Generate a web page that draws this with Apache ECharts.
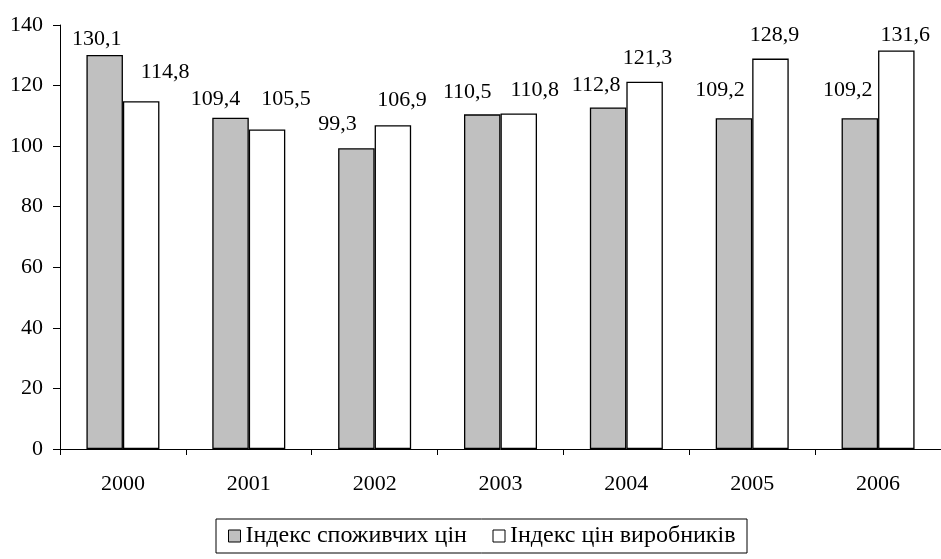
<!DOCTYPE html>
<html>
<head>
<meta charset="utf-8">
<script src="https://cdn.jsdelivr.net/npm/echarts@6/dist/echarts.min.js"></script>
<style>
html,body{margin:0;padding:0;background:#fff;}
#chart{width:941px;height:559px;}
</style>
</head>
<body>
<div id="chart"></div>
<script>
// Data
const categories = ['2000','2001','2002','2003','2004','2005','2006'];
const seriesNames = ['Індекс споживчих цін','Індекс цін виробників'];
const consumerIndex = [130.1, 109.4, 99.3, 110.5, 112.8, 109.2, 109.2];
const producerIndex = [114.8, 105.5, 106.9, 110.8, 121.3, 128.9, 131.6];
const yTicks = [0, 20, 40, 60, 80, 100, 120, 140];

// Label placement (style only): horizontal shift and vertical gap above bar
const consumerLabelDx = [-8, -15, -19, -15, -12, -14, -12];
const consumerLabelGap = [9, 11, 17, 15, 15, 21, 21];
const producerLabelDx = [24, 19, 9, 16, 3, 4, 9];
const producerLabelGap = [22, 23, 18, 16, 16, 16, 8];

const FONT = "'Liberation Serif','Times New Roman',serif";
const LEGEND_FS = 24;

function fmt(v){ return String(v.toFixed(1)).replace('.', ','); }

function buildData(values, dxs, gaps){
  return values.map((v,i)=>({
    value: v,
    label: { offset: [dxs[i], -(gaps[i]-4)] }
  }));
}

// measure legend texts to place the legend items like the reference
const mctx = document.createElement('canvas').getContext('2d');
mctx.font = LEGEND_FS + 'px ' + FONT;
const w1 = mctx.measureText(seriesNames[0]).width;
const w2 = mctx.measureText(seriesNames[1]).width;
const legendLeft = 216, padL = 12, icon = 12, iconGap = 5;
const item2X = 492, boxRight = 746;
const gapBetween = Math.max(4, item2X - (legendLeft + padL + icon + iconGap + w1));
const padR = Math.max(2, boxRight - (item2X + icon + iconGap + w2));

const chart = echarts.init(document.getElementById('chart'), null, {renderer:'canvas'});
chart.setOption({
  animation: false,
  backgroundColor: '#ffffff',
  grid: { left: 60, right: -6, top: 25, bottom: 110, containLabel: false },
  legend: {
    data: seriesNames,
    left: legendLeft, top: 519,
    orient: 'horizontal',
    padding: [5, padR, 5, padL],
    itemGap: gapBetween,
    itemWidth: icon, itemHeight: icon,
    icon: 'rect',
    borderColor: '#000', borderWidth: 1,
    itemStyle: { borderColor: '#000', borderWidth: 1 },
    textStyle: { fontFamily: FONT, fontSize: LEGEND_FS, color: '#000', lineHeight: 24 }
  },
  xAxis: {
    type: 'category',
    data: categories,
    boundaryGap: true,
    axisLine: { lineStyle: { color: '#000', width: 1 } },
    axisTick: { show: true, alignWithLabel: false, inside: false, length: 6, lineStyle: { color: '#000' } },
    axisLabel: { fontFamily: FONT, fontSize: 22, color: '#000', margin: 24 },
    splitLine: { show: false }
  },
  yAxis: {
    type: 'value',
    min: yTicks[0], max: yTicks[yTicks.length-1], interval: 20,
    axisLine: { show: true, lineStyle: { color: '#000', width: 1 } },
    axisTick: { show: true, inside: false, length: 7, lineStyle: { color: '#000' } },
    axisLabel: { fontFamily: FONT, fontSize: 22, color: '#000', margin: 17 },
    splitLine: { show: false }
  },
  series: [
    {
      name: seriesNames[0], type: 'bar',
      data: buildData(consumerIndex, consumerLabelDx, consumerLabelGap),
      barWidth: 36.5, barGap: '0%',
      itemStyle: { color: '#c0c0c0', borderColor: '#000', borderWidth: 1.3 },
      label: { show: true, position: 'top', distance: 0, fontFamily: FONT, fontSize: 22, color: '#000',
        formatter: p => fmt(p.value) }
    },
    {
      name: seriesNames[1], type: 'bar',
      data: buildData(producerIndex, producerLabelDx, producerLabelGap),
      barWidth: 36.5, barGap: '0%',
      itemStyle: { color: '#ffffff', borderColor: '#000', borderWidth: 1.3 },
      label: { show: true, position: 'top', distance: 0, fontFamily: FONT, fontSize: 22, color: '#000',
        formatter: p => fmt(p.value) }
    }
  ]
});
</script>
</body>
</html>
